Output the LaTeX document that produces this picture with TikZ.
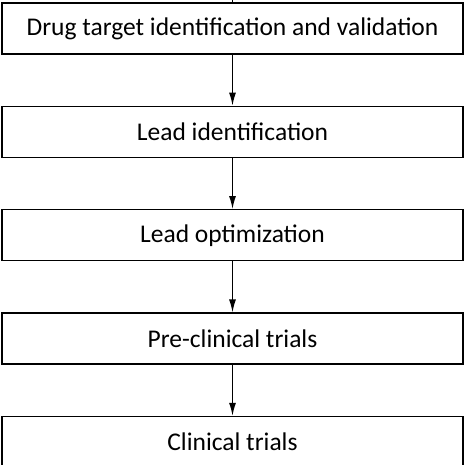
\documentclass[tikz,border=0pt]{standalone}
\usepackage{fontspec}
\setmainfont{Carlito}
\usetikzlibrary{positioning,arrows.meta}
\begin{document}
\begin{tikzpicture}[x = 1pt, y = 1pt, node distance = 51pt,
	stage/.style = {draw, line width = 1.4pt, minimum width = 461pt, minimum height = 51pt, inner sep = 0pt, font = \fontsize{25.5}{29}\selectfont},
	flow/.style = {-{Latex[length=13pt, width=7pt]}, line width = 1.4pt}]
	\useasboundingbox (0,0) rectangle (465,465);
	\node[stage] (target) at (232.5,436.5) {Drug target identification and validation};
	\node[stage, below = of target] (leadid) {Lead identification};
	\node[stage, below = of leadid] (leadopt) {Lead optimization};
	\node[stage, below = of leadopt] (preclin) {Pre-clinical trials};
	\node[stage, below = of preclin] (clin) {Clinical trials};
	\coordinate (in) at (232.5,465); %line from above
	\coordinate (out) at (232.5,0); %line going on below
	\draw[line width = 1.4pt] (in) -- (target);
	\draw[flow] (target) -- (leadid);
	\draw[flow] (leadid) -- (leadopt);
	\draw[flow] (leadopt) -- (preclin);
	\draw[flow] (preclin) -- (clin);
	\draw[line width = 1.4pt] (clin) -- (out);
\end{tikzpicture}
\end{document}
